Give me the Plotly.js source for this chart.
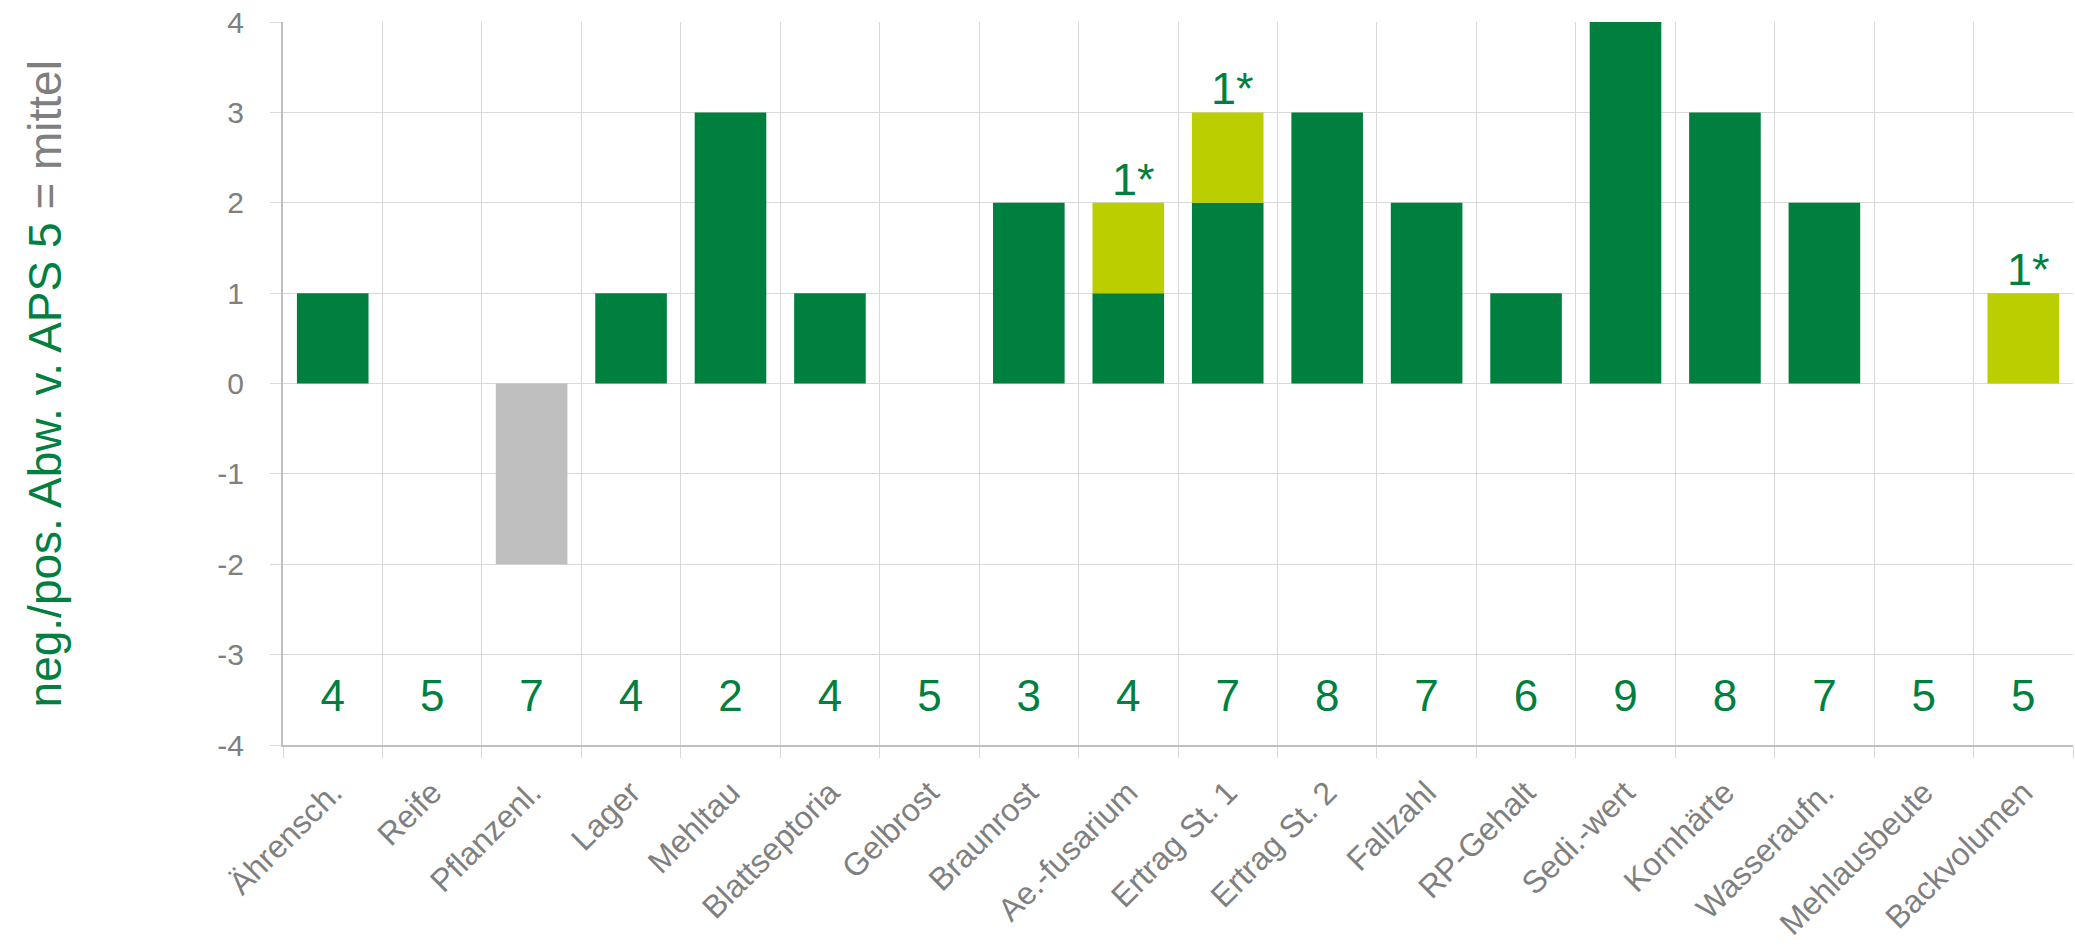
<!DOCTYPE html>
<html>
<head>
<meta charset="utf-8">
<script src="https://cdn.plot.ly/plotly-3.0.1.min.js"></script>
<style>html,body{margin:0;padding:0;background:#fff;}#chart{width:2075px;height:952px;}</style>
</head>
<body>
<div id="chart"></div>
<script>
const categories = ["Ährensch.", "Reife", "Pflanzenl.", "Lager", "Mehltau", "Blattseptoria", "Gelbrost", "Braunrost", "Ae.-fusarium", "Ertrag St. 1", "Ertrag St. 2", "Fallzahl", "RP-Gehalt", "Sedi.-wert", "Kornhärte", "Wasseraufn.", "Mehlausbeute", "Backvolumen"];
const greenValues = [1, 0, 0, 1, 3, 1, 0, 2, 1, 2, 3, 2, 1, 4, 3, 2, 0, 0];
const limeValues  = [0, 0, 0, 0, 0, 0, 0, 0, 1, 1, 0, 0, 0, 0, 0, 0, 0, 1];
const greyValues  = [0, 0, -2, 0, 0, 0, 0, 0, 0, 0, 0, 0, 0, 0, 0, 0, 0, 0];
const limeLabels  = ["", "", "", "", "", "", "", "", "1*", "1*", "", "", "", "", "", "", "", "1*"];
const apsScores   = [4, 5, 7, 4, 2, 4, 5, 3, 4, 7, 8, 7, 6, 9, 8, 7, 5, 5];
const yTicks = [-4, -3, -2, -1, 0, 1, 2, 3, 4];

const GREEN = "#00803F", LIME = "#BBCE00", GREY = "#BFBFBF", TXT = "#7F7F7F", FONT = "Liberation Sans, Arial, sans-serif";

const traces = [
  {type: "bar", x: categories, y: greenValues, marker: {color: GREEN}, hoverinfo: "skip"},
  {type: "bar", x: categories, y: greyValues, marker: {color: GREY}, hoverinfo: "skip"},
  {type: "bar", x: categories, y: limeValues, marker: {color: LIME}, hoverinfo: "skip"},
  {type: "scatter", mode: "text", x: categories, y: categories.map(() => -3.5),
   text: apsScores.map(String), textposition: "middle center",
   textfont: {family: FONT, size: 44, color: GREEN}, hoverinfo: "skip", cliponaxis: false}
];

const starAnnotations = [];
limeLabels.forEach((lab, i) => {
  if (!lab) return;
  starAnnotations.push({
    x: categories[i], y: greenValues[i] + limeValues[i], xref: "x", yref: "y",
    text: lab, showarrow: false, xanchor: "center", yanchor: "bottom",
    xshift: 5, yshift: -4,
    font: {family: FONT, size: 45, color: GREEN}
  });
});

const layout = {
  width: 2075, height: 952,
  margin: {l: 283, r: 2, t: 22, b: 207},
  paper_bgcolor: "#fff", plot_bgcolor: "#fff",
  barmode: "relative", bargap: 0.28,
  showlegend: false,
  font: {family: FONT, color: TXT},
  xaxis: {
    type: "category", tickson: "boundaries", ticks: "outside", ticklen: 11, tickcolor: "#D9D9D9", tickwidth: 1,
    showgrid: true, gridcolor: "#D9D9D9", gridwidth: 1,
    showline: true, linecolor: GREY, linewidth: 2,
    tickangle: -45, tickfont: {family: FONT, size: 32, color: TXT},
    ticklabelstandoff: 14,
    range: [-0.5, 17.5], automargin: false
  },
  yaxis: {
    range: [-4, 4], tickvals: yTicks, ticktext: yTicks.map(String),
    ticks: "outside", ticklen: 11, tickcolor: "#D9D9D9",
    showgrid: true, gridcolor: "#D9D9D9", gridwidth: 1, zeroline: false,
    showline: true, linecolor: GREY, linewidth: 2,
    tickfont: {family: FONT, size: 30, color: TXT}, ticklabelstandoff: 20, automargin: false
  },
  annotations: starAnnotations.concat([{
    xref: "paper", yref: "paper", x: -0.133, y: 0.5, xanchor: "center", yanchor: "middle",
    textangle: -90, showarrow: false,
    text: '<span style="color:' + GREEN + '">neg./pos. Abw. v. APS 5</span> = mittel',
    font: {family: FONT, size: 46, color: TXT}
  }])
};

Plotly.newPlot("chart", traces, layout, {staticPlot: true, displayModeBar: false});
</script>
</body>
</html>
